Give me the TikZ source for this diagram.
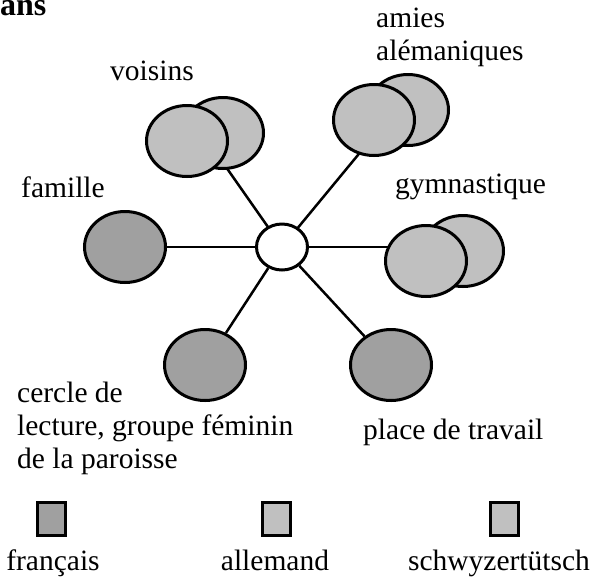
\documentclass[tikz,border=0pt]{standalone}
\usepackage{fontspec}
\setmainfont{Liberation Serif}
\usetikzlibrary{shapes.geometric, backgrounds, calc}
\definecolor{frgrey}{RGB}{160,160,160}
\definecolor{degrey}{RGB}{192,192,192}

\begin{document}
\begin{tikzpicture}[x=1pt, y=-1pt,
    bubble/.style={ellipse, draw, line width=3pt, inner sep=0pt, minimum width=81pt, minimum height=71pt},
    fr/.style={bubble, fill=frgrey},
    de/.style={bubble, fill=degrey},
    hub/.style={ellipse, draw, fill=white, line width=3pt, inner sep=0pt, minimum width=51pt, minimum height=46pt},
    link/.style={line width=2.5pt},
    txt/.style={anchor=base west, inner sep=0pt, font=\fontsize{29.5}{33}\selectfont},
    legtxt/.style={anchor=base, inner sep=0pt, font=\fontsize{29.5}{33}\selectfont},
    swatch/.style={draw, line width=3pt, inner sep=0pt, minimum width=28pt, minimum height=33pt}]
    \useasboundingbox (0,0) rectangle (591,579);

    \node[txt, font=\fontsize{32}{36}\selectfont\bfseries] (titre) at (0,15) {ans};

    % reseau
    \node[de] (voisinsB) at (223,133) {};
    \node[de] (voisinsA) at (187,141) {};
    \node[de] (amiesB) at (408,110) {};
    \node[de] (amiesA) at (374,120) {};
    \node[de] (gymB) at (463,251) {};
    \node[de] (gymA) at (426,261) {};
    \node[fr] (famille) at (125,247) {};
    \node[fr] (cercle) at (205,365) {};
    \node[fr] (travail) at (391,365) {};
    \node[hub] (centre) at (282,247) {};

    \begin{scope}[on background layer]
      \draw[link] (centre.center) -- ($(voisinsA)!0.5!(voisinsB)$);
      \draw[link] (centre.center) -- ($(amiesA)!0.5!(amiesB)$);
      \draw[link] (centre.center) -- (centre.center -| gymA);
      \draw[link] (centre) -- (famille);
      \draw[link] (centre) -- (cercle);
      \draw[link] (centre) -- (travail);
    \end{scope}

    \node[txt] (tvoisins) at (110,80) {voisins};
    \node[txt, align=left] (tamies) at (376,60) {amies\\alémaniques};
    \node[txt] (tfamille) at (21,197) {famille};
    \node[txt] (tgym) at (395,193) {gymnastique};
    \node[txt, align=left] (tcercle) at (17,468) {cercle de\\lecture, groupe féminin\\de la paroisse};
    \node[txt] (ttravail) at (363,439) {place de travail};

    % legende
    \node[swatch, fill=frgrey] (lfr) at (51,519) {};
    \node[swatch, fill=degrey] (lde) at (276,519) {};
    \node[swatch, fill=degrey] (lch) at (504,519) {};
    \node[legtxt] (tfr) at (53,570) {français};
    \node[legtxt] (tde) at (275,570) {allemand};
    \node[legtxt] (tch) at (499,570) {schwyzertütsch};
  \end{tikzpicture}
\end{document}
